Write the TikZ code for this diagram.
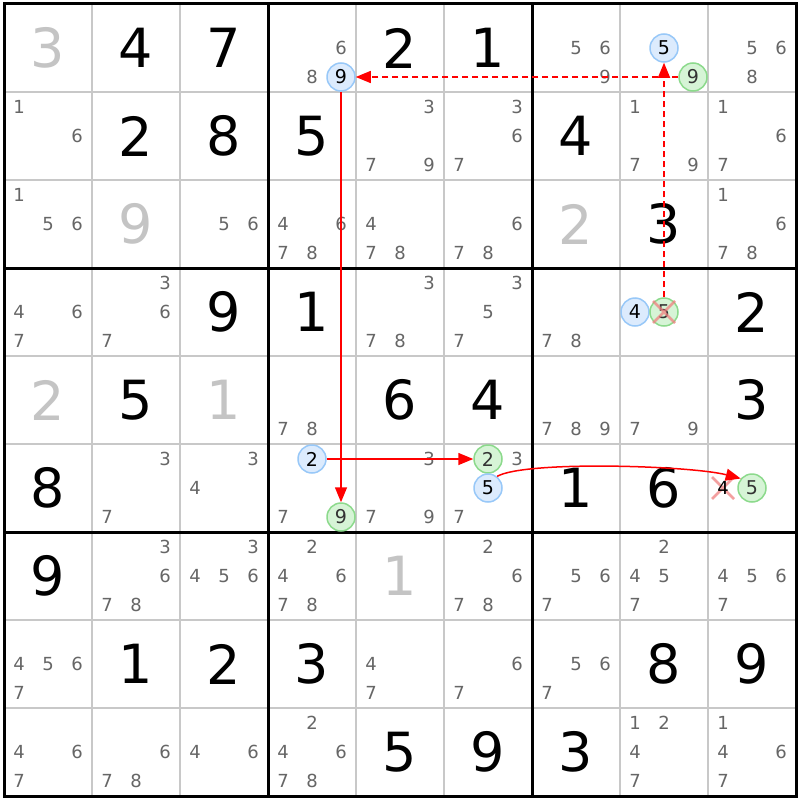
\documentclass[tikz,border=0pt]{standalone}
\usepackage{fontspec}
\setmainfont{DejaVu Sans}
\usetikzlibrary{arrows.meta}
\definecolor{candgray}{HTML}{666666}
\definecolor{givengray}{HTML}{C4C4C4}
\definecolor{thinline}{HTML}{C8C8C8}
\definecolor{bluefill}{HTML}{DCEBFD}
\definecolor{bluedraw}{HTML}{98C8F8}
\definecolor{greenfill}{HTML}{D6F4D6}
\definecolor{greendraw}{HTML}{8CDA8C}
\definecolor{crossred}{HTML}{F08080}
\tikzset{
  thingrid/.style={draw=thinline, line width=1.5pt},
  thickgrid/.style={draw=black, line width=3pt},
  given/.style={inner sep=0pt, font=\fontsize{54}{54}\selectfont, text=black},
  givenlight/.style={given, text=givengray},
  cand/.style={inner sep=0pt, font=\fontsize{18}{18}\selectfont, text=candgray},
  bcirc/.style={circle, inner sep=0pt, minimum size=28pt, line width=1.5pt, draw=bluedraw, fill=bluefill, font=\fontsize{19}{19}\selectfont, text=black},
  gcirc/.style={circle, inner sep=0pt, minimum size=28pt, line width=1.5pt, draw=greendraw, fill=greenfill, font=\fontsize{19}{19}\selectfont, text=black!80},
  plaincand/.style={inner sep=0pt, font=\fontsize{18}{18}\selectfont, text=black},
  chainline/.style={draw=red, line width=1.5pt, -{Triangle[length=15pt,width=12pt]}},
  weaklink/.style={chainline, dash pattern=on 6pt off 4pt},
  xmark/.style={draw=crossred, line width=2.5pt, opacity=0.75}
}
\begin{document}
\begin{tikzpicture}[x=1pt,y=-1pt]
\useasboundingbox (0,0) rectangle (800,800);
\fill[white] (0,0) rectangle (800,800);
% thin grid lines
\foreach \i in {1,2,4,5,7,8} {
  \draw[thingrid] ({4+88*\i},4) -- ({4+88*\i},796);
  \draw[thingrid] (4,{4+88*\i}) -- (796,{4+88*\i});
}
% thick box lines
\foreach \i in {3,6} {
  \draw[thickgrid] ({4+88*\i},4) -- ({4+88*\i},796);
  \draw[thickgrid] (4,{4+88*\i}) -- (796,{4+88*\i});
}
\draw[thickgrid] (4,4) rectangle (796,796);
% givens (black)
\foreach \r/\c/\d in {1/2/4,1/3/7,1/5/2,1/6/1,
  2/2/2,2/3/8,2/4/5,2/7/4,
  3/8/3,
  4/3/9,4/4/1,4/9/2,
  5/2/5,5/5/6,5/6/4,5/9/3,
  6/1/8,6/7/1,6/8/6,
  7/1/9,
  8/2/1,8/3/2,8/4/3,8/8/8,8/9/9,
  9/5/5,9/6/9,9/7/3} {
  \node[given] (v\r\c) at ({88*\c-40},{88*\r-40}) {\d};
}
% givens (light)
\foreach \r/\c/\d in {1/1/3,3/2/9,3/7/2,5/1/2,5/3/1,7/5/1} {
  \node[givenlight] (v\r\c) at ({88*\c-40},{88*\r-40}) {\d};
}
% candidates
\foreach \r/\c/\l in {1/4/{6,8},1/7/{5,6,9},1/9/{5,6,8},
  2/1/{1,6},2/5/{3,7,9},2/6/{3,6,7},2/8/{1,7,9},2/9/{1,6,7},
  3/1/{1,5,6},3/3/{5,6},3/4/{4,6,7,8},3/5/{4,7,8},3/6/{6,7,8},3/9/{1,6,7,8},
  4/1/{4,6,7},4/2/{3,6,7},4/5/{3,7,8},4/6/{3,5,7},4/7/{7,8},
  5/4/{7,8},5/7/{7,8,9},5/8/{7,9},
  6/2/{3,7},6/3/{3,4},6/4/{7},6/5/{3,7,9},6/6/{3,7},
  7/2/{3,6,7,8},7/3/{3,4,5,6},7/4/{2,4,6,7,8},7/6/{2,6,7,8},7/7/{5,6,7},7/8/{2,4,5,7},7/9/{4,5,6,7},
  8/1/{4,5,6,7},8/5/{4,7},8/6/{6,7},8/7/{5,6,7},
  9/1/{4,6,7},9/2/{6,7,8},9/3/{4,6},9/4/{2,4,6,7,8},9/8/{1,2,4,7},9/9/{1,4,6,7}} {
  \foreach \p in \l {
    \node[cand] (k\r\c\p) at ({88*\c-40+29*(mod(\p-1,3)-1)},{88*\r-40+29*(floor((\p-1)/3)-1)}) {\p};
  }
}
% highlighted candidates
\node[bcirc] (b149) at (341,77) {9};
\node[bcirc] (b185) at (664,48) {5};
\node[gcirc] (g189) at (693,77) {9};
\node[bcirc] (b484) at (635,312) {4};
\node[gcirc] (g485) at (664,312) {5};
\node[bcirc] (b642) at (312,459) {2};
\node[gcirc] (g649) at (341,517) {9};
\node[gcirc] (g662) at (488,459) {2};
\node[bcirc] (b665) at (488,488) {5};
\node[gcirc] (g695) at (752,488) {5};
\draw[xmark] (723,488) coordinate (x694) +(-11,-11) -- +(11,11) +(-11,11) -- +(11,-11);
\node[plaincand] (k694) at (x694) {4};
\draw[xmark] (g485.center) +(-11,-11) -- +(11,11) +(-11,11) -- +(11,-11);
% chain
\draw[weaklink] (g485) -- (b185);
\draw[weaklink] (g189) -- (b149);
\draw[chainline] (b149) -- (g649);
\draw[chainline] (b642) -- (g662);
\draw[chainline] (b665.52) .. controls +(28,-16) and +(-50,-13) .. (g695.140);
\end{tikzpicture}
\end{document}
